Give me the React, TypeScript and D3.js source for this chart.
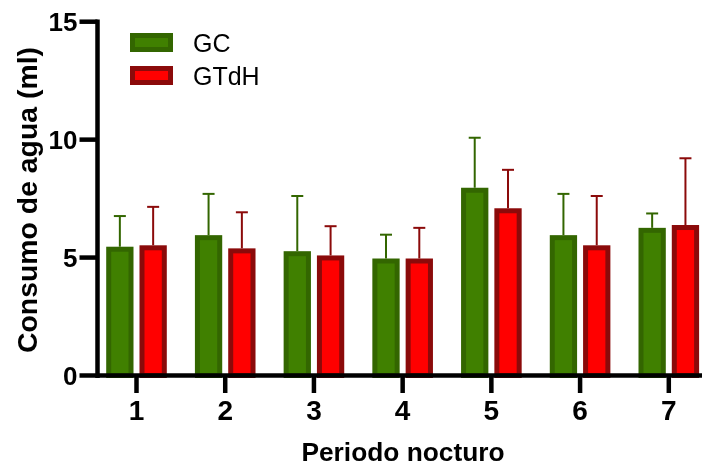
import React, { useEffect, useRef } from 'react';
import * as d3 from 'd3';

const periods = ['1', '2', '3', '4', '5', '6', '7'];
const groups = ['GC', 'GTdH'];
const gcMean = [5.46, 5.95, 5.27, 4.96, 7.96, 5.95, 6.26];
const gcSd = [1.3, 1.75, 2.34, 1.01, 2.12, 1.75, 0.61];
const gtdhMean = [5.52, 5.39, 5.09, 4.96, 7.09, 5.52, 6.38];
const gtdhSd = [1.63, 1.53, 1.24, 1.3, 1.63, 2.09, 2.83];
const yTicks = [0, 5, 10, 15];

const fills: { [key: string]: string } = { GC: '#408000', GTdH: '#ff0000' };
const strokes: { [key: string]: string } = { GC: '#336600', GTdH: '#8b0a0a' };

const FONT = '"Liberation Sans", Arial, sans-serif';

const App: React.FC = () => {
  const svgRef = useRef<SVGSVGElement>(null);

  useEffect(() => {
    const width = 702;
    const height = 468;
    const axisX = 97.5;
    const axisY = 375.5;
    const bw = 5; // bar border

    const svg = d3.select(svgRef.current).attr('width', width).attr('height', height);
    svg.selectAll('*').remove();

    const yScale = d3.scaleLinear().domain([0, 15]).range([axisY, 21.7]);
    const xScale = d3.scalePoint<string>().domain(periods).range([136.5, 668.8]);
    const inner = d3.scaleBand<string>().domain(groups).range([-30.3, 30.3]).paddingInner(0.18);

    const rows = periods.flatMap((p, i) => [
      { period: p, key: 'GC', mean: gcMean[i], sd: gcSd[i] },
      { period: p, key: 'GTdH', mean: gtdhMean[i], sd: gtdhSd[i] },
    ]);

    const cx = (d: { period: string; key: string }) => xScale(d.period)! + inner(d.key)! + inner.bandwidth() / 2;

    const barG = svg.append('g');

    // error bars (upper only)
    barG
      .selectAll('line.err')
      .data(rows)
      .join('line')
      .attr('class', 'err')
      .attr('x1', cx)
      .attr('x2', cx)
      .attr('y1', (d) => yScale(d.mean))
      .attr('y2', (d) => yScale(d.mean + d.sd))
      .attr('stroke', (d) => strokes[d.key])
      .attr('stroke-width', 2);

    barG
      .selectAll('line.cap')
      .data(rows)
      .join('line')
      .attr('class', 'cap')
      .attr('x1', (d) => cx(d) - 6)
      .attr('x2', (d) => cx(d) + 6)
      .attr('y1', (d) => yScale(d.mean + d.sd))
      .attr('y2', (d) => yScale(d.mean + d.sd))
      .attr('stroke', (d) => strokes[d.key])
      .attr('stroke-width', 2);

    barG
      .selectAll('rect.bar')
      .data(rows)
      .join('rect')
      .attr('class', 'bar')
      .attr('x', (d) => xScale(d.period)! + inner(d.key)! + bw / 2)
      .attr('y', (d) => yScale(d.mean) + bw / 2)
      .attr('width', inner.bandwidth() - bw)
      .attr('height', (d) => axisY - yScale(d.mean) - bw / 2)
      .attr('fill', (d) => fills[d.key])
      .attr('stroke', (d) => strokes[d.key])
      .attr('stroke-width', bw);

    // axes
    const axisG = svg.append('g').attr('stroke', '#000').attr('stroke-width', 4.5);
    axisG.append('line').attr('x1', axisX).attr('x2', axisX).attr('y1', yScale(15) - 2.2).attr('y2', axisY + 2.5);
    axisG.append('line').attr('x1', 79.5).attr('x2', width).attr('y1', axisY).attr('y2', axisY);
    axisG
      .selectAll('line.ytick')
      .data(yTicks.filter((t) => t > 0))
      .join('line')
      .attr('class', 'ytick')
      .attr('x1', 79.5)
      .attr('x2', axisX)
      .attr('y1', (d) => yScale(d))
      .attr('y2', (d) => yScale(d));
    axisG
      .selectAll('line.xtick')
      .data(periods)
      .join('line')
      .attr('class', 'xtick')
      .attr('x1', (d) => xScale(d)!)
      .attr('x2', (d) => xScale(d)!)
      .attr('y1', axisY)
      .attr('y2', 393);

    svg
      .selectAll('text.ylab')
      .data(yTicks)
      .join('text')
      .attr('class', 'ylab')
      .attr('x', 77.5)
      .attr('y', (d) => yScale(d) + 9.3)
      .attr('text-anchor', 'end')
      .attr('font-family', FONT)
      .attr('font-weight', 'bold')
      .attr('font-size', 26)
      .text((d) => d);

    svg
      .selectAll('text.xlab')
      .data(periods)
      .join('text')
      .attr('class', 'xlab')
      .attr('x', (d) => xScale(d)!)
      .attr('y', 419.5)
      .attr('text-anchor', 'middle')
      .attr('font-family', FONT)
      .attr('font-weight', 'bold')
      .attr('font-size', 28)
      .text((d) => d);

    svg
      .append('text')
      .attr('x', 403)
      .attr('y', 461)
      .attr('text-anchor', 'middle')
      .attr('font-family', FONT)
      .attr('font-weight', 'bold')
      .attr('font-size', 26.3)
      .text('Periodo nocturo');

    svg
      .append('text')
      .attr('transform', 'translate(37,200) rotate(-90)')
      .attr('text-anchor', 'middle')
      .attr('font-family', FONT)
      .attr('font-weight', 'bold')
      .attr('font-size', 28.4)
      .text('Consumo de agua (ml)');

    // legend
    const legend = svg.append('g');
    legend
      .selectAll('rect')
      .data(groups)
      .join('rect')
      .attr('x', 132.5)
      .attr('y', (d, i) => 35.5 + i * 33)
      .attr('width', 38)
      .attr('height', 14)
      .attr('fill', (d) => fills[d])
      .attr('stroke', (d) => strokes[d])
      .attr('stroke-width', bw);
    legend
      .selectAll('text')
      .data(groups)
      .join('text')
      .attr('x', 193)
      .attr('y', (d, i) => 51.5 + i * 33)
      .attr('font-family', FONT)
      .attr('font-size', 25)
      .text((d) => d);
  }, []);

  return (
    <div style={{ position: 'fixed', left: 0, top: 0 }}>
      <svg ref={svgRef} style={{ display: 'block' }} />
    </div>
  );
};

export default App;
